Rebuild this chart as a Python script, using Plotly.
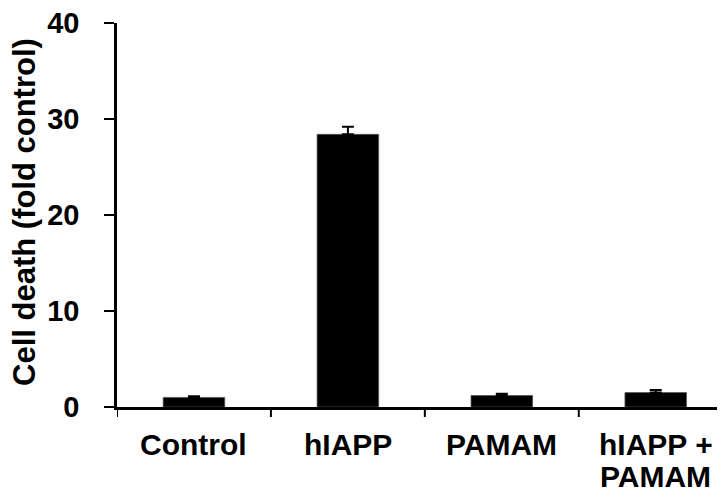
import plotly.graph_objects as go

categories = ["Control", "hIAPP", "PAMAM", "hIAPP + PAMAM"]
label_lines = [["Control"], ["hIAPP"], ["PAMAM"], ["hIAPP +", "PAMAM"]]
values = [1.0, 28.4, 1.2, 1.5]
errors = [0.12, 0.8, 0.18, 0.27]
y_ticks = [0, 10, 20, 30, 40]
y_title = "Cell death (fold control)"

FONT = "Liberation Sans, Arial, sans-serif"

# the page body adds an 8px offset, so the figure is sized to fill the window from there
fig = go.Figure(
    go.Bar(
        x=list(range(len(categories))),
        y=values,
        width=0.4,
        name="Cell death",
        marker=dict(color="black", line=dict(color="#555555", width=0.8)),
        error_y=dict(type="data", array=errors, arrayminus=[0] * len(errors),
                     symmetric=False, color="black", thickness=2, width=6),
    )
)

fig.update_layout(
    width=717,
    height=490,
    margin=dict(l=109, r=0, t=15, b=91),
    plot_bgcolor="white",
    paper_bgcolor="white",
    showlegend=False,
    font=dict(family=FONT, size=29, color="black", weight="bold"),
)

fig.update_xaxes(
    range=[-0.5, 3.45],
    tickmode="array",
    tickvals=list(range(len(categories))),
    ticktext=[""] * len(categories),
    showline=True, linecolor="black", linewidth=2.5,
    ticks="", showgrid=False, zeroline=False,
    automargin=False,
)

fig.update_yaxes(
    range=[0, 40],
    tickmode="array",
    tickvals=y_ticks,
    ticktext=[str(v) for v in y_ticks],
    showline=True, linecolor="black", linewidth=2.5,
    ticks="outside", ticklen=10, tickwidth=2, tickcolor="black",
    showgrid=False, zeroline=False,
    ticklabelstandoff=19,
    ticklabeloverflow="allow",
    automargin=False,
    tickfont=dict(family=FONT, size=29, color="black", weight="bold"),
)

# y axis title
fig.add_annotation(x=0, xref="paper", y=0.5, yref="paper", text=y_title,
                   textangle=-90, showarrow=False, xanchor="center", yanchor="middle",
                   xshift=-93, yshift=3,
                   font=dict(family=FONT, size=31, color="black", weight="bold"))

# category labels (one annotation per text line, tight line spacing)
for i, lines in enumerate(label_lines):
    for j, line in enumerate(lines):
        fig.add_annotation(x=i, xref="x", y=0, yref="paper", text=line,
                           showarrow=False, xanchor="center", yanchor="middle",
                           yshift=-37 - 32 * j,
                           font=dict(family=FONT, size=30, color="black", weight="bold"))

# boundary ticks on the x axis
for xb in [-0.5, 0.5, 1.5, 2.5]:
    fig.add_shape(type="line", xref="x", yref="paper", x0=xb, x1=xb, y0=0, y1=-0.026,
                  line=dict(color="black", width=2))

fig.write_html("out.html")
